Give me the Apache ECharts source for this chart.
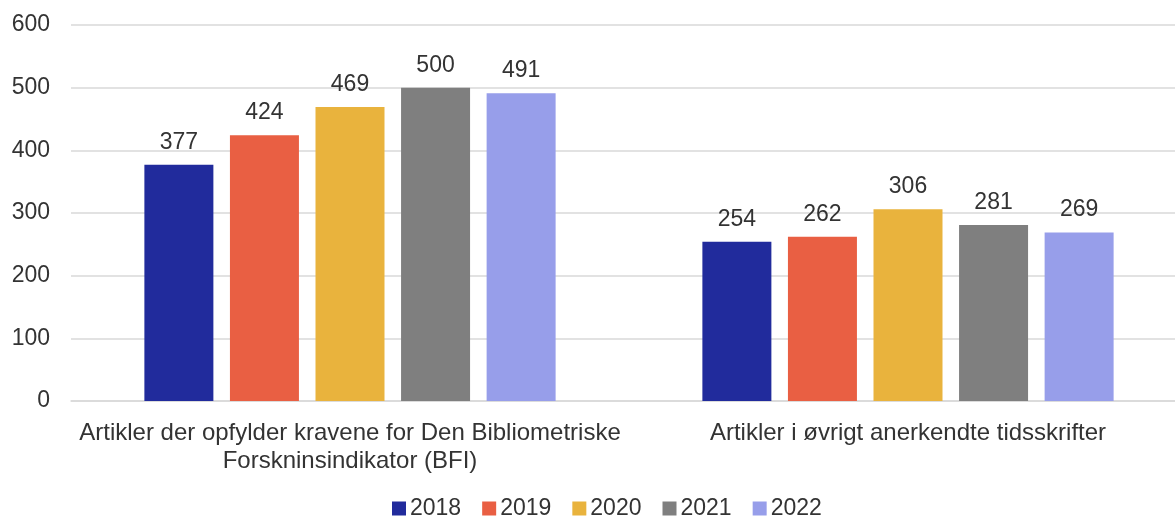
<!DOCTYPE html>
<html>
<head>
<meta charset="utf-8">
<script src="https://cdn.jsdelivr.net/npm/echarts@6/dist/echarts.min.js"></script>
<style>html,body{margin:0;padding:0;background:#fff}#c{width:1175px;height:517px}</style>
</head>
<body>
<div id="c"></div>
<script>
const categories = ["Artikler der opfylder kravene for Den Bibliometriske\nForskninsindikator (BFI)", "Artikler i øvrigt anerkendte tidsskrifter"];
const years = ["2018", "2019", "2020", "2021", "2022"];
const v2018 = [377, 254];
const v2019 = [424, 262];
const v2020 = [469, 306];
const v2021 = [500, 281];
const v2022 = [491, 269];
const colors = ["#212B9C", "#E95F43", "#E9B33D", "#7F7F7F", "#979EEA"];
const values = [v2018, v2019, v2020, v2021, v2022];

const font = "Liberation Sans, Arial, sans-serif";
const chart = echarts.init(document.getElementById('c'));
chart.setOption({
  animation: false,
  textStyle: { fontFamily: font },
  grid: { left: 71, top: 25, right: -12, height: 376, containLabel: false, outerBoundsMode: 'none' },
  legend: {
    top: 497, left: 392, padding: 0, itemWidth: 14, itemHeight: 14, itemGap: 21,
    icon: 'rect',
    textStyle: { fontSize: 23, color: '#333', fontFamily: font, padding: [0, 0, 0, -1] },
    data: years
  },
  xAxis: {
    type: 'category', data: categories,
    axisLine: { show: true, lineStyle: { color: '#d9d9d9', width: 1.5 } },
    axisTick: { show: false },
    axisLabel: { fontSize: 24, color: '#333', margin: 18, lineHeight: 28, interval: 0, fontFamily: font }
  },
  yAxis: {
    type: 'value', min: 0, max: 600, interval: 100,
    axisLine: { show: false }, axisTick: { show: false },
    splitLine: { lineStyle: { color: '#d9d9d9', width: 1.5 } },
    axisLabel: { fontSize: 23, color: '#333', margin: 21, fontFamily: font }
  },
  series: years.map((y, i) => ({
    name: y, type: 'bar', data: values[i], barWidth: 69, barGap: '24%',
    itemStyle: { color: colors[i] },
    label: { show: true, position: 'top', distance: 11, fontSize: 23, color: '#333', fontFamily: font }
  }))
});
</script>
</body>
</html>
